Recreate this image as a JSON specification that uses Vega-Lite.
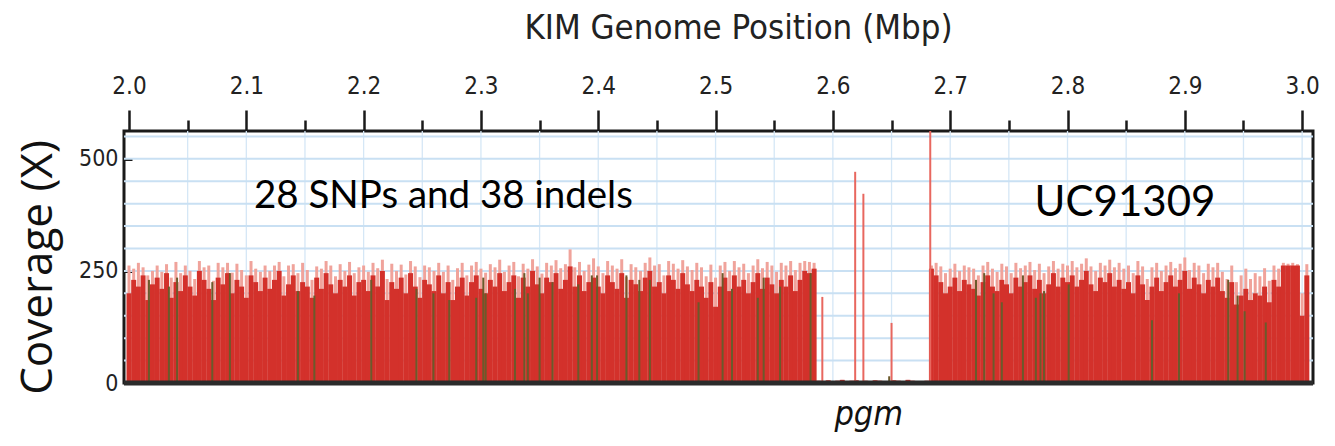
{
  "$schema": "https://vega.github.io/schema/vega-lite/v6.json",
  "width": 1189,
  "height": 252,
  "autosize": {"type": "none"},
  "padding": {"left": 124, "top": 131, "right": 22, "bottom": 63},
  "background": "white",
  "config": {"view": {"stroke": "#1a1a1a", "strokeWidth": 3}, "font": "DejaVu Sans Condensed"},
  "datasets": {
    "cov": [
      {"p":2.000,"c":200,"t":262},{"p":2.004,"c":230,"t":255},{"p":2.008,"c":215,"t":268},{"p":2.012,"c":240,"t":258},{"p":2.016,"c":185,"t":240},{"p":2.020,"c":220,"t":250},{"p":2.024,"c":235,"t":262},{"p":2.028,"c":210,"t":248},{"p":2.032,"c":245,"t":265},{"p":2.036,"c":190,"t":235},
      {"p":2.040,"c":225,"t":270},{"p":2.044,"c":205,"t":245},{"p":2.048,"c":240,"t":262},{"p":2.052,"c":215,"t":250},{"p":2.056,"c":195,"t":232},{"p":2.060,"c":250,"t":272},{"p":2.064,"c":230,"t":258},{"p":2.068,"c":210,"t":262},{"p":2.072,"c":185,"t":228},{"p":2.076,"c":235,"t":268},
      {"p":2.080,"c":220,"t":258},{"p":2.084,"c":245,"t":268},{"p":2.088,"c":200,"t":246},{"p":2.092,"c":230,"t":266},{"p":2.096,"c":215,"t":252},{"p":2.100,"c":190,"t":240},{"p":2.104,"c":240,"t":272},{"p":2.108,"c":225,"t":255},{"p":2.112,"c":205,"t":248},{"p":2.116,"c":235,"t":262},
      {"p":2.120,"c":210,"t":250},{"p":2.124,"c":230,"t":262},{"p":2.128,"c":250,"t":270},{"p":2.132,"c":195,"t":238},{"p":2.136,"c":220,"t":262},{"p":2.140,"c":240,"t":265},{"p":2.144,"c":205,"t":245},{"p":2.148,"c":225,"t":268},{"p":2.152,"c":215,"t":252},{"p":2.156,"c":190,"t":230},
      {"p":2.160,"c":235,"t":260},{"p":2.164,"c":210,"t":255},{"p":2.168,"c":245,"t":272},{"p":2.172,"c":220,"t":262},{"p":2.176,"c":200,"t":238},{"p":2.180,"c":230,"t":265},{"p":2.184,"c":215,"t":250},{"p":2.188,"c":240,"t":270},{"p":2.192,"c":195,"t":245},{"p":2.196,"c":225,"t":258},
      {"p":2.200,"c":230,"t":262},{"p":2.204,"c":205,"t":248},{"p":2.208,"c":240,"t":268},{"p":2.212,"c":215,"t":256},{"p":2.216,"c":250,"t":275},{"p":2.220,"c":185,"t":232},{"p":2.224,"c":225,"t":266},{"p":2.228,"c":210,"t":250},{"p":2.232,"c":235,"t":264},{"p":2.236,"c":200,"t":242},
      {"p":2.240,"c":245,"t":272},{"p":2.244,"c":215,"t":260},{"p":2.248,"c":190,"t":236},{"p":2.252,"c":230,"t":262},{"p":2.256,"c":220,"t":258},{"p":2.260,"c":205,"t":250},{"p":2.264,"c":240,"t":268},{"p":2.268,"c":200,"t":248},{"p":2.272,"c":225,"t":262},{"p":2.276,"c":185,"t":230},
      {"p":2.280,"c":215,"t":256},{"p":2.284,"c":235,"t":268},{"p":2.288,"c":195,"t":240},{"p":2.292,"c":225,"t":262},{"p":2.296,"c":240,"t":270},{"p":2.300,"c":210,"t":255},{"p":2.304,"c":200,"t":246},{"p":2.308,"c":230,"t":265},{"p":2.312,"c":215,"t":258},{"p":2.316,"c":245,"t":275},
      {"p":2.320,"c":205,"t":248},{"p":2.324,"c":225,"t":262},{"p":2.328,"c":240,"t":270},{"p":2.332,"c":190,"t":238},{"p":2.336,"c":235,"t":266},{"p":2.340,"c":215,"t":255},{"p":2.344,"c":250,"t":276},{"p":2.348,"c":220,"t":260},{"p":2.352,"c":200,"t":244},{"p":2.356,"c":235,"t":268},
      {"p":2.360,"c":225,"t":262},{"p":2.364,"c":245,"t":274},{"p":2.368,"c":210,"t":256},{"p":2.372,"c":230,"t":265},{"p":2.376,"c":260,"t":298},{"p":2.380,"c":215,"t":258},{"p":2.384,"c":240,"t":270},{"p":2.388,"c":205,"t":250},{"p":2.392,"c":225,"t":264},{"p":2.396,"c":235,"t":278},
      {"p":2.400,"c":215,"t":260},{"p":2.404,"c":200,"t":245},{"p":2.408,"c":240,"t":272},{"p":2.412,"c":225,"t":262},{"p":2.416,"c":210,"t":255},{"p":2.420,"c":245,"t":276},{"p":2.424,"c":190,"t":236},{"p":2.428,"c":230,"t":265},{"p":2.432,"c":220,"t":258},{"p":2.436,"c":205,"t":250},
      {"p":2.440,"c":235,"t":268},{"p":2.444,"c":250,"t":280},{"p":2.448,"c":215,"t":262},{"p":2.452,"c":225,"t":265},{"p":2.456,"c":200,"t":240},{"p":2.460,"c":240,"t":272},{"p":2.464,"c":230,"t":266},{"p":2.468,"c":210,"t":255},{"p":2.472,"c":245,"t":274},{"p":2.476,"c":220,"t":260},
      {"p":2.480,"c":205,"t":252},{"p":2.484,"c":230,"t":268},{"p":2.488,"c":215,"t":258},{"p":2.492,"c":190,"t":238},{"p":2.496,"c":225,"t":264},{"p":2.500,"c":170,"t":235},{"p":2.504,"c":215,"t":262},{"p":2.508,"c":235,"t":270},{"p":2.512,"c":205,"t":250},{"p":2.516,"c":240,"t":272},
      {"p":2.520,"c":215,"t":258},{"p":2.524,"c":230,"t":266},{"p":2.528,"c":200,"t":245},{"p":2.532,"c":225,"t":262},{"p":2.536,"c":245,"t":276},{"p":2.540,"c":210,"t":256},{"p":2.544,"c":235,"t":270},{"p":2.548,"c":220,"t":262},{"p":2.552,"c":200,"t":248},{"p":2.556,"c":230,"t":268},
      {"p":2.560,"c":215,"t":262},{"p":2.564,"c":240,"t":272},{"p":2.568,"c":205,"t":252},{"p":2.572,"c":230,"t":268},{"p":2.576,"c":250,"t":272},{"p":2.580,"c":245,"t":270},{"p":2.584,"c":255,"t":268},
      {"p":2.588,"c":5,"t":5},{"p":2.592,"c":4,"t":4},{"p":2.596,"c":6,"t":6},{"p":2.600,"c":3,"t":3},{"p":2.604,"c":5,"t":5},{"p":2.608,"c":7,"t":7},{"p":2.612,"c":4,"t":4},{"p":2.616,"c":5,"t":5},{"p":2.620,"c":6,"t":6},{"p":2.624,"c":3,"t":3},{"p":2.628,"c":5,"t":5},{"p":2.632,"c":4,"t":4},
      {"p":2.636,"c":6,"t":6},{"p":2.640,"c":5,"t":5},{"p":2.644,"c":3,"t":3},{"p":2.648,"c":4,"t":4},{"p":2.652,"c":6,"t":6},{"p":2.656,"c":5,"t":5},{"p":2.660,"c":4,"t":4},{"p":2.664,"c":7,"t":7},{"p":2.668,"c":5,"t":5},{"p":2.672,"c":3,"t":3},{"p":2.676,"c":4,"t":4},{"p":2.680,"c":5,"t":5},
      {"p":2.684,"c":255,"t":262},{"p":2.688,"c":240,"t":268},{"p":2.692,"c":225,"t":260},{"p":2.696,"c":200,"t":245},{"p":2.700,"c":215,"t":255},{"p":2.704,"c":235,"t":266},{"p":2.708,"c":205,"t":250},{"p":2.712,"c":230,"t":262},{"p":2.716,"c":220,"t":258},{"p":2.720,"c":210,"t":255},
      {"p":2.724,"c":195,"t":240},{"p":2.728,"c":225,"t":262},{"p":2.732,"c":240,"t":270},{"p":2.736,"c":215,"t":255},{"p":2.740,"c":205,"t":248},{"p":2.744,"c":230,"t":266},{"p":2.748,"c":220,"t":260},{"p":2.752,"c":200,"t":245},{"p":2.756,"c":235,"t":268},{"p":2.760,"c":215,"t":256},
      {"p":2.764,"c":225,"t":262},{"p":2.768,"c":240,"t":270},{"p":2.772,"c":210,"t":252},{"p":2.776,"c":230,"t":266},{"p":2.780,"c":200,"t":245},{"p":2.784,"c":220,"t":260},{"p":2.788,"c":245,"t":272},{"p":2.792,"c":215,"t":255},{"p":2.796,"c":235,"t":266},{"p":2.800,"c":225,"t":262},
      {"p":2.804,"c":240,"t":272},{"p":2.808,"c":215,"t":258},{"p":2.812,"c":230,"t":266},{"p":2.816,"c":250,"t":278},{"p":2.820,"c":220,"t":260},{"p":2.824,"c":205,"t":250},{"p":2.828,"c":235,"t":268},{"p":2.832,"c":225,"t":262},{"p":2.836,"c":245,"t":275},{"p":2.840,"c":215,"t":258},
      {"p":2.844,"c":230,"t":268},{"p":2.848,"c":210,"t":255},{"p":2.852,"c":225,"t":262},{"p":2.856,"c":200,"t":245},{"p":2.860,"c":240,"t":272},{"p":2.864,"c":220,"t":260},{"p":2.868,"c":185,"t":232},{"p":2.872,"c":215,"t":258},{"p":2.876,"c":235,"t":268},{"p":2.880,"c":205,"t":250},
      {"p":2.884,"c":225,"t":262},{"p":2.888,"c":240,"t":270},{"p":2.892,"c":215,"t":256},{"p":2.896,"c":230,"t":266},{"p":2.900,"c":250,"t":280},{"p":2.904,"c":210,"t":252},{"p":2.908,"c":235,"t":268},{"p":2.912,"c":220,"t":262},{"p":2.916,"c":200,"t":245},{"p":2.920,"c":230,"t":266},
      {"p":2.924,"c":215,"t":258},{"p":2.928,"c":235,"t":268},{"p":2.932,"c":205,"t":248},{"p":2.936,"c":190,"t":232},{"p":2.940,"c":225,"t":262},{"p":2.944,"c":175,"t":225},{"p":2.948,"c":195,"t":240},{"p":2.952,"c":210,"t":255},{"p":2.956,"c":185,"t":232},{"p":2.960,"c":200,"t":245},
      {"p":2.964,"c":195,"t":238},{"p":2.968,"c":215,"t":256},{"p":2.972,"c":180,"t":228},{"p":2.976,"c":230,"t":262},{"p":2.980,"c":215,"t":255},{"p":2.984,"c":262,"t":268},{"p":2.988,"c":262,"t":266},{"p":2.992,"c":262,"t":268},{"p":2.996,"c":262,"t":265},{"p":3.000,"c":150,"t":200},
      {"p":3.004,"c":240,"t":265}
    ],
    "spikes": [
      {"p":2.591,"h":192},{"p":2.619,"h":471},{"p":2.626,"h":422},{"p":2.650,"h":134},{"p":2.683,"h":562}
    ],
    "snps": [
      {"p":2.017,"h":230},{"p":2.034,"h":215},{"p":2.041,"h":235},{"p":2.071,"h":225},{"p":2.086,"h":245},{"p":2.144,"h":205},{"p":2.158,"h":195},{"p":2.2065,"h":230},{"p":2.245,"h":210},{"p":2.2595,"h":200},
      {"p":2.273,"h":185},{"p":2.296,"h":190},{"p":2.302,"h":235},{"p":2.304,"h":200},{"p":2.329,"h":210},{"p":2.337,"h":245},{"p":2.340,"h":200},{"p":2.350,"h":235},{"p":2.361,"h":225},{"p":2.383,"h":220},
      {"p":2.3945,"h":240},{"p":2.399,"h":240},{"p":2.424,"h":240},{"p":2.435,"h":230},{"p":2.444,"h":230},{"p":2.4855,"h":180},{"p":2.506,"h":245},{"p":2.514,"h":210},{"p":2.536,"h":190},{"p":2.541,"h":235},
      {"p":2.555,"h":215},{"p":2.581,"h":245},{"p":2.648,"h":15},{"p":2.722,"h":230},{"p":2.729,"h":245},{"p":2.737,"h":200},{"p":2.744,"h":180},{"p":2.762,"h":240},{"p":2.773,"h":190},{"p":2.777,"h":200},
      {"p":2.780,"h":205},{"p":2.801,"h":220},{"p":2.872,"h":140},{"p":2.895,"h":200},{"p":2.937,"h":230},{"p":2.945,"h":195},{"p":2.951,"h":160},{"p":2.969,"h":135}
    ],
    "xgrid": [
      {"g":2.05},{"g":2.1},{"g":2.15},{"g":2.2},{"g":2.25},{"g":2.3},{"g":2.35},{"g":2.4},{"g":2.45},{"g":2.5},{"g":2.55},{"g":2.6},{"g":2.65},{"g":2.7},{"g":2.75},{"g":2.8},{"g":2.85},{"g":2.9},{"g":2.95},{"g":3.0}
    ],
    "ygrid": [
      {"g":50},{"g":100},{"g":150},{"g":200},{"g":250},{"g":300},{"g":350},{"g":400},{"g":450},{"g":500},{"g":550}
    ],
    "note1": [
      {"p":2.268,"v":417,"label":"28 SNPs and 38 indels"}
    ],
    "note2": [
      {"p":2.849,"v":402,"label":"UC91309"}
    ],
    "gene": [
      {"p":2.6306,"v":-72,"label":"pgm"}
    ]
  },
  "layer": [
    {
      "data": {"name": "xgrid"},
      "mark": {"type": "rule", "color": "#d5e7f6", "strokeWidth": 1.3},
      "encoding": {
        "x": {
          "field": "g", "type": "quantitative",
          "scale": {"domain": [2.0, 3.005], "nice": false, "zero": false},
          "axis": {
            "orient": "top",
            "values": [2.0,2.05,2.1,2.15,2.2,2.25,2.3,2.35,2.4,2.45,2.5,2.55,2.6,2.65,2.7,2.75,2.8,2.85,2.9,2.95,3.0],
            "labelExpr": "round(datum.value*100) % 10 == 0 ? format(datum.value, '.1f') : ''",
            "tickSize": {"condition": {"test": "round(datum.value*100) % 10 != 0", "value": 11}, "value": 21},
            "tickColor": "#1a1a1a", "tickWidth": 2.5,
            "domain": false, "labelOverlap": false, "grid": false,
            "labelFont": "DejaVu Sans Condensed", "labelFontSize": 24, "labelColor": "#222", "labelPadding": 12, "labelFlush": false,
            "title": "KIM Genome Position (Mbp)", "titleFont": "DejaVu Sans Condensed", "titleFontSize": 34.5, "titleFontWeight": "normal", "titleColor": "#222",
            "titleX": 614, "titleY": -103, "titleBaseline": "middle", "titleAnchor": "middle", "titleAlign": "center"
          }
        }
      }
    },
    {
      "data": {"name": "ygrid"},
      "mark": {"type": "rule", "color": "#c9e0f3", "strokeWidth": 2},
      "encoding": {
        "y": {
          "field": "g", "type": "quantitative",
          "scale": {"domain": [0, 562], "nice": false},
          "axis": {
            "values": [0, 250, 500],
            "labelOverlap": false,
            "tickSize": -8, "tickWidth": 3, "tickColor": "#1a1a1a",
            "tickOpacity": {"condition": {"test": "datum.value == 0", "value": 0}, "value": 1},
            "domain": false, "grid": false,
            "labelFont": "DejaVu Sans Condensed", "labelFontSize": 23, "labelColor": "#222", "labelPadding": 14,
            "title": "Coverage (X)", "titleFont": "Open Sans", "titleFontSize": 44, "titleFontWeight": "normal", "titleColor": "#111",
            "titleX": -86, "titleY": 136, "titleAngle": 270, "titleBaseline": "middle", "titleAlign": "center"
          }
        }
      }
    },
    {
      "data": {"name": "cov"},
      "mark": {"type": "bar", "size": 3, "color": "#f0a39b"},
      "encoding": {
        "x": {"field": "p", "type": "quantitative"},
        "y": {"field": "t", "type": "quantitative"}
      }
    },
    {
      "data": {"name": "cov"},
      "mark": {"type": "bar", "size": 5, "color": "#d3312b"},
      "encoding": {
        "x": {"field": "p", "type": "quantitative"},
        "y": {"field": "c", "type": "quantitative"}
      }
    },
    {
      "data": {"name": "spikes"},
      "mark": {"type": "bar", "size": 2, "color": "#e8675f"},
      "encoding": {
        "x": {"field": "p", "type": "quantitative"},
        "y": {"field": "h", "type": "quantitative"}
      }
    },
    {
      "data": {"name": "snps"},
      "mark": {"type": "bar", "size": 2, "color": "#6b5a2b"},
      "encoding": {
        "x": {"field": "p", "type": "quantitative"},
        "y": {"field": "h", "type": "quantitative"}
      }
    },
    {
      "data": {"values": [{"v": 0}]},
      "mark": {"type": "rule", "color": "#2b2b2b", "strokeWidth": 5},
      "encoding": {"y": {"field": "v", "type": "quantitative"}}
    },
    {
      "data": {"name": "note1"},
      "mark": {"type": "text", "font": "Lato", "fontSize": 38.5, "color": "#000", "baseline": "middle", "align": "center"},
      "encoding": {
        "x": {"field": "p", "type": "quantitative"},
        "y": {"field": "v", "type": "quantitative"},
        "text": {"field": "label"}
      }
    },
    {
      "data": {"name": "note2"},
      "mark": {"type": "text", "font": "Lato", "fontSize": 42, "color": "#000", "baseline": "middle", "align": "center"},
      "encoding": {
        "x": {"field": "p", "type": "quantitative"},
        "y": {"field": "v", "type": "quantitative"},
        "text": {"field": "label"}
      }
    },
    {
      "data": {"name": "gene"},
      "mark": {"type": "text", "font": "DejaVu Sans Condensed", "fontStyle": "italic", "fontSize": 34, "color": "#111", "baseline": "middle", "align": "center", "clip": false},
      "encoding": {
        "x": {"field": "p", "type": "quantitative"},
        "y": {"field": "v", "type": "quantitative"},
        "text": {"field": "label"}
      }
    }
  ]
}
